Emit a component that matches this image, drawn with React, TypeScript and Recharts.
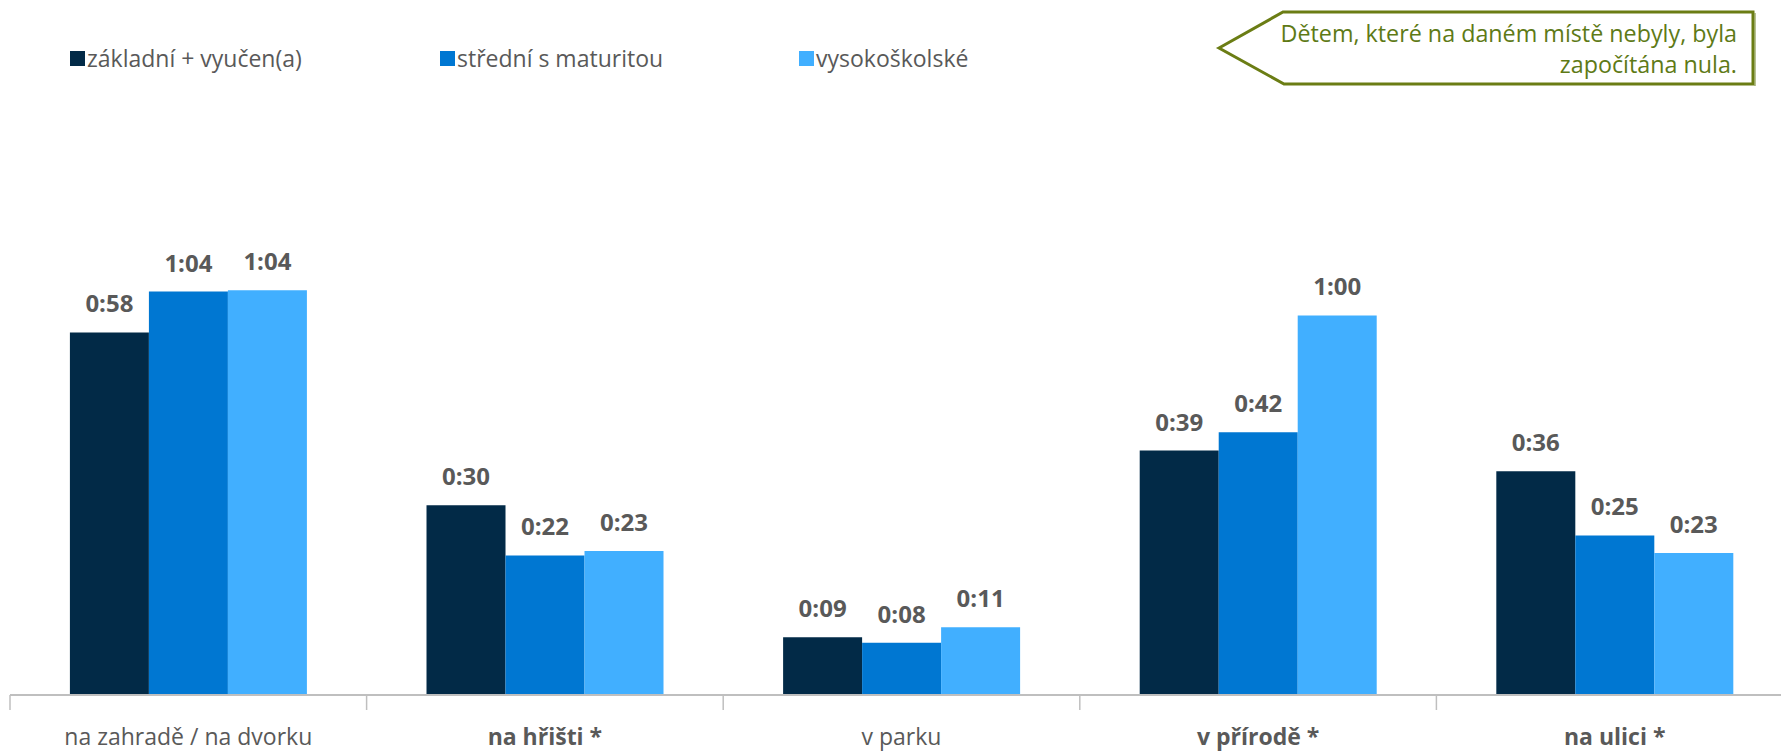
import { BarChart, Bar, XAxis, YAxis, Legend, LabelList } from 'recharts';

const places = ['na zahradě / na dvorku', 'na hřišti *', 'v parku', 'v přírodě *', 'na ulici *'];
const boldPlaces = [false, true, false, true, true];

// minutes per day
const basic = [57.7, 30.2, 9.2, 38.9, 35.6];
const secondary = [64.2, 22.2, 8.3, 41.8, 25.4];
const university = [64.4, 22.9, 10.8, 60.4, 22.6];

const seriesNames = ['základní + vyučen(a)', 'střední s maturitou', 'vysokoškolské'];
const seriesKeys = ['basic', 'secondary', 'university'];
const colors = ['#022A47', '#0077D2', '#41AFFF'];

const note = ['Dětem, které na daném místě nebyly, byla', 'započítána nula.'];

const FONT = '"Open Sans", "Noto Sans", sans-serif';
const TEXT = '#595959';
const AXIS = '#BFBFBF';
const LEGEND_LEFT = [60, 430, 789];

const data = places.map((place, i) => ({
  place,
  basic: basic[i],
  secondary: secondary[i],
  university: university[i],
}));

function toTime(v: number) {
  const m = Math.round(v);
  return `${Math.floor(m / 60)}:${String(m % 60).padStart(2, '0')}`;
}

function PlaceTick({ x, y, payload, index, width }: any) {
  const half = payload?.offset ?? width / places.length / 2;
  const left = x - half;
  return (
    <g>
      <line x1={left} y1={y} x2={left} y2={y + 15} stroke={AXIS} strokeWidth={1.5} />
      {index === places.length - 1 && (
        <line x1={x + half} y1={y} x2={x + half} y2={y + 15} stroke={AXIS} strokeWidth={1.5} />
      )}
      <text
        x={x}
        y={y + 50}
        textAnchor="middle"
        fill={TEXT}
        fontSize={23}
        fontFamily={FONT}
        fontWeight={boldPlaces[index] ? 700 : 400}
      >
        {payload.value}
      </text>
    </g>
  );
}

function LegendBox({ payload }: any) {
  // keep the series order, not the alphabetical one
  const items = [...(payload || [])].sort(
    (a: any, b: any) => seriesNames.indexOf(a.value) - seriesNames.indexOf(b.value)
  );
  return (
    <div style={{ position: 'relative', height: 120 }}>
      {items.map((item: any, i: number) => (
        <div
          key={item.value}
          style={{
            position: 'absolute',
            left: LEGEND_LEFT[i],
            top: 51,
            display: 'flex',
            alignItems: 'center',
            height: 15,
            whiteSpace: 'nowrap',
          }}
        >
          <span style={{ width: 15, height: 15, background: item.color, marginRight: 2 }} />
          <span style={{ fontFamily: FONT, fontSize: 23, color: TEXT, lineHeight: '15px' }}>
            {item.value}
          </span>
        </div>
      ))}
    </div>
  );
}

function Callout() {
  return (
    <svg width={1781} height={110} style={{ position: 'absolute', left: 0, top: 0 }}>
      <polygon
        points="1219,48 1283,12 1753,12 1753,84 1284,84"
        fill="#ffffff"
        stroke="#6B7D14"
        strokeWidth={3}
        strokeLinejoin="miter"
      />
      <line x1={1755} y1={13} x2={1755} y2={86} stroke="#8A9A4A" strokeWidth={2} opacity={0.6} />
      {note.map((line, i) => (
        <text
          key={i}
          x={1737}
          y={42 + i * 31}
          textAnchor="end"
          fill="#5E7A16"
          fontSize={23.3}
          fontFamily={FONT}
        >
          {line}
        </text>
      ))}
    </svg>
  );
}

export default function App() {
  return (
    <div
      style={{
        position: 'absolute',
        left: 0,
        top: 0,
        width: 1781,
        height: 752,
        overflow: 'hidden',
        background: '#ffffff',
      }}
    >
      <BarChart
        width={1793}
        height={752}
        data={data}
        margin={{ top: 0, right: 0, bottom: 0, left: 10 }}
        barCategoryGap="16.8%"
        barGap={0}
      >
        <Legend verticalAlign="top" align="left" content={<LegendBox />} />
        <XAxis
          dataKey="place"
          height={57}
          interval={0}
          axisLine={{ stroke: AXIS, strokeWidth: 2 }}
          tickLine={false}
          tickSize={0}
          tickMargin={0}
          tick={<PlaceTick />}
        />
        <YAxis hide domain={[0, 91.5]} />
        {seriesKeys.map((key, i) => (
          <Bar key={key} dataKey={key} name={seriesNames[i]} fill={colors[i]} isAnimationActive={false}>
            <LabelList
              dataKey={key}
              position="top"
              offset={20}
              formatter={(v: any) => toTime(Number(v))}
              fill={TEXT}
              fontSize={24}
              fontWeight={700}
              fontFamily={FONT}
            />
          </Bar>
        ))}
      </BarChart>
      <Callout />
    </div>
  );
}
